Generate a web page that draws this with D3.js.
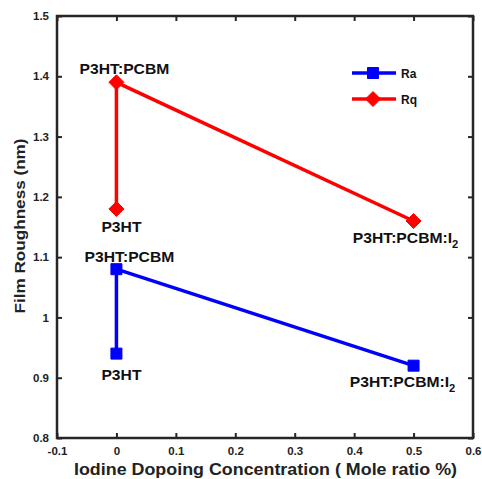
<!DOCTYPE html>
<html><head><meta charset="utf-8">
<script src="https://cdn.jsdelivr.net/npm/d3@7"></script>
<style>body{margin:0;background:#fff}svg{display:block}text{font-family:"Liberation Sans",Arial,sans-serif;font-weight:bold}</style>
</head><body><svg id="c" width="482" height="479"></svg>
<script>
const seriesNames = ["Ra", "Rq"];
const concentrations = [0, 0, 0.5];
const raValues = [0.94, 1.08, 0.92];
const rqValues = [1.18, 1.39, 1.16];
const sampleLabels = ["P3HT", "P3HT:PCBM", "P3HT:PCBM:I2"];
const xTicks = [-0.1, 0, 0.1, 0.2, 0.3, 0.4, 0.5, 0.6];
const yTicks = [0.8, 0.9, 1, 1.1, 1.2, 1.3, 1.4, 1.5];

const svg = d3.select("#c");
const L = 57, R = 473, T = 16, B = 438;
const x = d3.scaleLinear().domain([-0.1, 0.6]).range([L, R]);
const y = d3.scaleLinear().domain([0.8, 1.5]).range([B, T]);
const axisColor = "#262626";

const fmt = d => (d === 0 ? "0" : d === 1 ? "1" : d3.format(".1f")(d).replace("−", "-"));
const gx = svg.append("g").attr("transform", `translate(0,${B})`)
  .call(d3.axisBottom(x).tickValues(xTicks).tickSizeInner(-5).tickSizeOuter(0).tickPadding(9).tickFormat(fmt));
const gx2 = svg.append("g").attr("transform", `translate(0,${T})`)
  .call(d3.axisTop(x).tickValues(xTicks).tickSizeInner(-5).tickSizeOuter(0).tickFormat(""));
const gy = svg.append("g").attr("transform", `translate(${L},0)`)
  .call(d3.axisLeft(y).tickValues(yTicks).tickSizeInner(-5).tickSizeOuter(0).tickPadding(8).tickFormat(fmt));
const gy2 = svg.append("g").attr("transform", `translate(${R},0)`)
  .call(d3.axisRight(y).tickValues(yTicks).tickSizeInner(-5).tickSizeOuter(0).tickFormat(""));
[gx, gx2, gy, gy2].forEach(g => {
  g.select(".domain").remove();
  g.selectAll(".tick line").attr("stroke", axisColor).attr("stroke-width", 2);
  g.selectAll(".tick text").attr("fill", "#222").style("font-size", "11.5px").style("font-weight", "bold");
});
gy.selectAll(".tick text").attr("dy", "0.32em");
svg.append("rect").attr("x", L).attr("y", T).attr("width", R - L).attr("height", B - T)
  .attr("fill", "none").attr("stroke", axisColor).attr("stroke-width", 2.5);

svg.append("text").attr("x", 265.5).attr("y", 475).attr("text-anchor", "middle")
  .attr("textLength", 383).attr("lengthAdjust", "spacingAndGlyphs")
  .style("font-size", "16.5px").attr("fill", "#222").text("Iodine Dopoing Concentration ( Mole ratio %)");
svg.append("text").attr("transform", `translate(25,226) rotate(-90)`).attr("text-anchor", "middle")
  .attr("textLength", 175).attr("lengthAdjust", "spacingAndGlyphs")
  .style("font-size", "15px").attr("fill", "#222").text("Film Roughness (nm)");

const line = d3.line().x(d => x(d[0])).y(d => y(d[1]));
const ra = concentrations.map((c, i) => [c, raValues[i]]);
const rq = concentrations.map((c, i) => [c, rqValues[i]]);

svg.append("path").datum(ra).attr("d", line).attr("fill", "none").attr("stroke", "#0000ff").attr("stroke-width", 3.5);
svg.append("path").datum(rq).attr("d", line).attr("fill", "none").attr("stroke", "#ff0000").attr("stroke-width", 3.5);

const sqPath = "M-5.5,-5.5H5.5V5.5H-5.5Z";
const dmPath = "M0,-7.5L7.5,0L0,7.5L-7.5,0Z";
svg.selectAll(".ra").data(ra).join("path").attr("d", sqPath)
  .attr("transform", d => `translate(${x(d[0])},${y(d[1])})`).attr("fill", "#0000ff")
  .attr("stroke", "#0000ff").attr("stroke-width", 1).attr("stroke-linejoin", "round");
svg.selectAll(".rq").data(rq).join("path").attr("d", dmPath)
  .attr("transform", d => `translate(${x(d[0])},${y(d[1])})`).attr("fill", "#ff0000")
  .attr("stroke", "#ff0000").attr("stroke-width", 1).attr("stroke-linejoin", "round");

function label(px, py, txt) {
  const g = svg.append("g").attr("transform", `translate(${px},${py}) scale(1.12,1)`);
  const t = g.append("text").attr("text-anchor", "middle").style("font-size", "14px").attr("fill", "#111");
  if (txt.endsWith("I2")) {
    t.text(txt.slice(0, -1));
    t.append("tspan").attr("dy", 5).style("font-size", "10px").text("2");
  } else t.text(txt);
}
label(x(rq[0][0]) + 5, y(rq[0][1]) + 23, sampleLabels[0]);
label(x(rq[1][0]) + 8, y(rq[1][1]) - 8, sampleLabels[1]);
label(x(rq[2][0]) - 8, y(rq[2][1]) + 22, sampleLabels[2]);
label(x(ra[0][0]) + 5, y(ra[0][1]) + 26, sampleLabels[0]);
label(x(ra[1][0]) + 13, y(ra[1][1]) - 7, sampleLabels[1]);
label(x(ra[2][0]) - 11, y(ra[2][1]) + 21, sampleLabels[2]);

const leg = [{n: seriesNames[0], c: "#0000ff", s: sqPath, y: 73}, {n: seriesNames[1], c: "#ff0000", s: dmPath, y: 99}];
leg.forEach(l => {
  svg.append("line").attr("x1", 352).attr("x2", 396).attr("y1", l.y).attr("y2", l.y).attr("stroke", l.c).attr("stroke-width", 3.5);
  svg.append("path").attr("d", l.s).attr("transform", `translate(373,${l.y})`).attr("fill", l.c)
    .attr("stroke", l.c).attr("stroke-width", 1).attr("stroke-linejoin", "round");
  svg.append("text").attr("x", 401).attr("y", l.y + 4.5).style("font-size", "12px").attr("fill", "#111").text(l.n);
});
</script></body></html>
